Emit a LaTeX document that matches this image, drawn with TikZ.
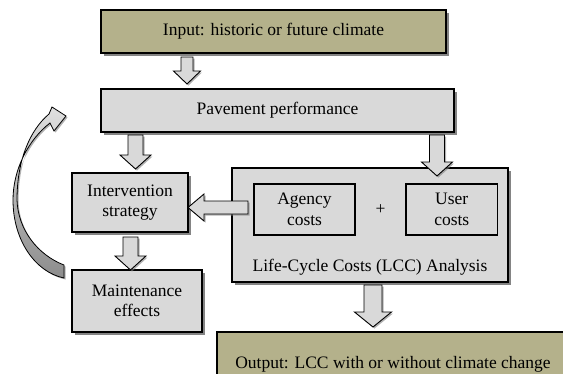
\documentclass[tikz,border=0pt]{standalone}
\usepackage{fontspec}
\setmainfont{Liberation Serif}
\usetikzlibrary{shadows}
\definecolor{boxolive}{HTML}{B4B18B}
\definecolor{boxgray}{HTML}{D9D9D9}
\newcommand\fs{\fontsize{17.5pt}{20.5pt}\selectfont}
\newcommand\blockdown[6]{\draw[barrow] ({#1-#4/2},#2) -- ({#1+#4/2},#2) -- ({#1+#4/2},{#3-#6}) -- ({#1+#5/2},{#3-#6}) -- (#1,#3) -- ({#1-#5/2},{#3-#6}) -- ({#1-#4/2},{#3-#6}) -- cycle;}
\newcommand\blockleft[6]{\draw[barrow] (#2,{#1-#4/2}) -- (#2,{#1+#4/2}) -- ({#3+#6},{#1+#4/2}) -- ({#3+#6},{#1+#5/2}) -- (#3,#1) -- ({#3+#6},{#1-#5/2}) -- ({#3+#6},{#1-#4/2}) -- cycle;}
\begin{document}
\begin{tikzpicture}[x=1pt,y=-1pt,
  box/.style={draw=black, line width=1.1pt, fill=boxgray, inner sep=0pt, align=center, font=\fs,
    drop shadow={shadow xshift=2.5pt, shadow yshift=-2.5pt, fill=black!60, opacity=0.8}},
  inbox/.style={draw=black, line width=1.1pt, fill=boxgray, inner sep=0pt, align=center, font=\fs},
  olivebox/.style={box, fill=boxolive},
  barrow/.style={draw=black, line width=0.9pt, fill=boxgray, line join=miter,
    drop shadow={shadow xshift=1.5pt, shadow yshift=-1.5pt, fill=black!50, opacity=0.6}},
  lbl/.style={inner sep=0pt, font=\fs}]
\clip (0,0) rectangle (563,373);
\fill[white] (0,0) rectangle (563,373);
% boxes
\node[olivebox, minimum width=345pt, minimum height=43pt] (in) at (273.5,31.5) {Input: historic or future climate};
\node[box, minimum width=353pt, minimum height=43pt] (pav) at (277.5,110.5) {Pavement performance};
\node[box, minimum width=116pt, minimum height=59pt] (int) at (130,202.5) {Intervention\\strategy};
\node[box, minimum width=276pt, minimum height=114pt] (lcc) at (370,225) {};
\node[inbox, minimum width=101pt, minimum height=51pt] (ag) at (304.5,209.5) {Agency\\costs};
\node[inbox, minimum width=91.5pt, minimum height=51pt] (us) at (451.75,209.5) {User\\costs};
\node[lbl] (plus) at (380.6,210) {+};
\node[lbl] (lcclbl) at (370,267) {Life-Cycle Costs (LCC) Analysis};
\node[box, minimum width=130pt, minimum height=62pt] (mnt) at (137,301) {Maintenance\\effects};
\node[olivebox, minimum width=356pt, minimum height=72pt] (out) at (395,368) {};
\node[lbl] (outlbl) at (393,364) {Output: LCC with or without climate change};
% block arrows
\blockdown{187}{57}{84}{12}{27}{13}
\blockdown{135.5}{135}{169}{15}{31}{14}
\blockdown{437}{135}{176}{15}{31}{14}
\blockdown{130.5}{237}{270}{15}{31}{14}
\blockdown{373}{285}{327}{18}{37}{15}
\blockleft{207.5}{248}{188}{13}{27}{16}
% curved feedback arrow
\draw[line width=0.8pt, top color=black!12, bottom color=black!45, line join=miter,
  drop shadow={shadow xshift=1.5pt, shadow yshift=-1.5pt, fill=black!50, opacity=0.6}]
  (64,265) .. controls (38,255) and (18,230) .. (17,200)
  .. controls (17,160) and (30,130) .. (49,114)
  -- (52,107) -- (66,116) -- (54,131) -- (50,123)
  .. controls (28,140) and (13,170) .. (13,200)
  .. controls (13,240) and (35,272) .. (64,278) -- cycle;
\end{tikzpicture}
\end{document}
